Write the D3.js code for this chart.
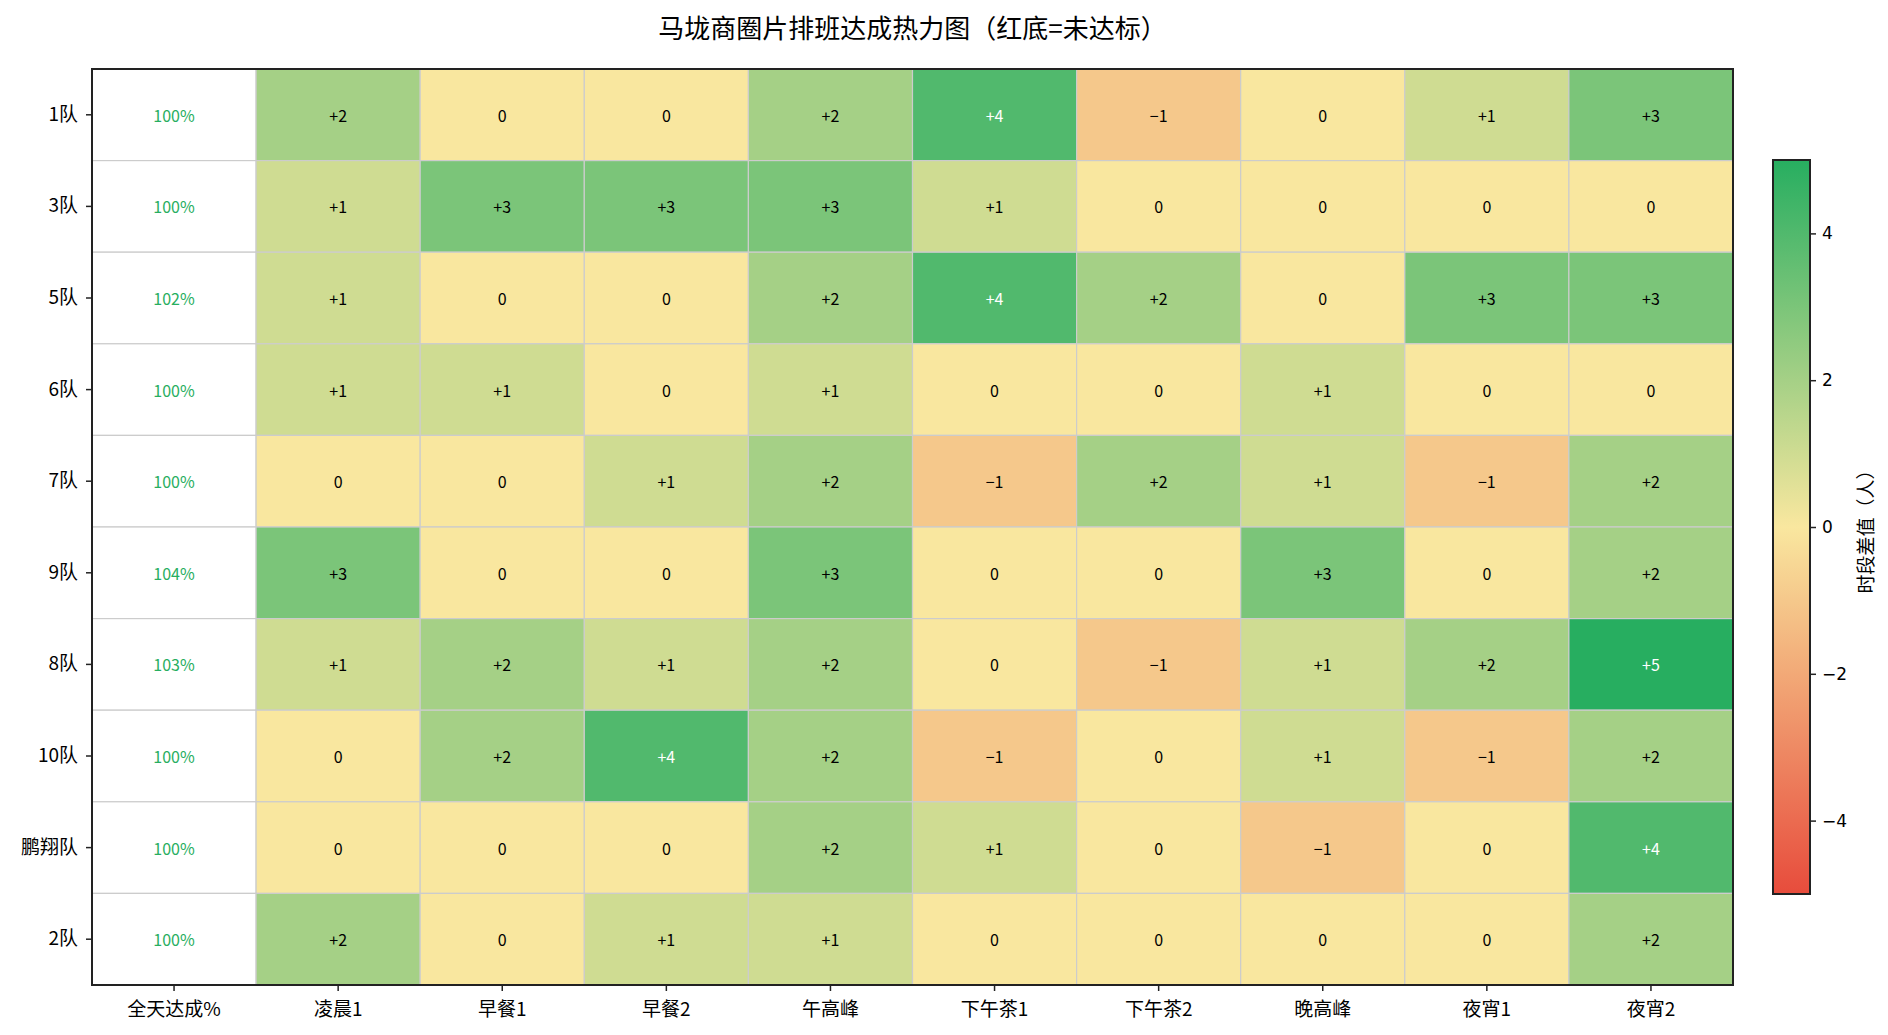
<!DOCTYPE html>
<html>
<head>
<meta charset="utf-8">
<script src="https://cdn.jsdelivr.net/npm/d3@7"></script>
<style>
  body { margin: 0; background: #fff; }
  svg text { font-family: "Noto Sans CJK SC", "DejaVu Sans", sans-serif; }
</style>
</head>
<body>
<div id="chart"></div>
<script>
const teams = ["1队", "3队", "5队", "6队", "7队", "9队", "8队", "10队", "鹏翔队", "2队"];
const slots = ["凌晨1", "早餐1", "早餐2", "午高峰", "下午茶1", "下午茶2", "晚高峰", "夜宵1", "夜宵2"];
const dayRate = [100, 100, 102, 100, 100, 104, 103, 100, 100, 100];
// per-team slot differences (people), same order as slots
const diffs = [
  [2, 0, 0, 2, 4, -1, 0, 1, 3],
  [1, 3, 3, 3, 1, 0, 0, 0, 0],
  [1, 0, 0, 2, 4, 2, 0, 3, 3],
  [1, 1, 0, 1, 0, 0, 1, 0, 0],
  [0, 0, 1, 2, -1, 2, 1, -1, 2],
  [3, 0, 0, 3, 0, 0, 3, 0, 2],
  [1, 2, 1, 2, 0, -1, 1, 2, 5],
  [0, 2, 4, 2, -1, 0, 1, -1, 2],
  [0, 0, 0, 2, 1, 0, -1, 0, 4],
  [2, 0, 1, 1, 0, 0, 0, 0, 2]
];
const cbTicks = [-4, -2, 0, 2, 4];

{
  const W = 1888, H = 1035;
  const axLeft = 92, axRight = 1733, axTop = 69, axBottom = 985;
  const columns = ["全天达成%"].concat(slots);

  const svg = d3.select("#chart").append("svg")
    .attr("width", W)
    .attr("height", H);

  let x = d3.scaleBand().domain(columns).range([axLeft, axRight]);
  let y = d3.scaleBand().domain(teams).range([axTop, axBottom]);

  let color = d3.scaleLinear()
    .domain([-5, 0, 5])
    .range(["#e74c3c", "#f9e79f", "#27ae60"])
    .interpolate(d3.interpolateRgb);

  const fmt = v => v > 0 ? "+" + v : (v < 0 ? "\u2212" + Math.abs(v) : "0");

  // flatten into cells
  let cells = [];
  teams.forEach((t, i) => {
    cells.push({ team: t, col: columns[0], rate: dayRate[i] });
    slots.forEach((s, j) => cells.push({ team: t, col: s, v: diffs[i][j] }));
  });

  let g = svg.append("g");
  g.selectAll("rect")
    .data(cells)
    .enter()
    .append("rect")
      .attr("x", d => x(d.col))
      .attr("y", d => y(d.team))
      .attr("width", x.bandwidth())
      .attr("height", y.bandwidth())
      .attr("fill", d => d.rate != undefined ? "#ffffff" : color(d.v))
      .attr("stroke", "#cccccc")
      .attr("stroke-width", 1.2);

  g.selectAll("text")
    .data(cells)
    .enter()
    .append("text")
      .attr("x", d => x(d.col) + x.bandwidth() / 2)
      .attr("y", d => y(d.team) + y.bandwidth() / 2)
      .attr("text-anchor", "middle")
      .attr("dominant-baseline", "central")
      .attr("font-size", 16)
      .attr("fill", d => {
        if (d.rate != undefined) return d.rate >= 100 ? "#27ae60" : "#e74c3c";
        return Math.abs(d.v) >= 4 ? "#ffffff" : "#000000";
      })
      .text(d => d.rate != undefined ? d.rate + "%" : fmt(d.v));

  // frame
  svg.append("rect")
    .attr("x", axLeft).attr("y", axTop)
    .attr("width", axRight - axLeft).attr("height", axBottom - axTop)
    .attr("fill", "none")
    .attr("stroke", "#222")
    .attr("stroke-width", 2);

  // axes
  let yAxis = svg.append("g")
    .attr("transform", `translate(${axLeft},0)`)
    .call(d3.axisLeft(y).tickSize(6).tickPadding(8));
  let xAxis = svg.append("g")
    .attr("transform", `translate(0,${axBottom})`)
    .call(d3.axisBottom(x).tickSize(6).tickPadding(12));
  [xAxis, yAxis].forEach(a => {
    a.select(".domain").remove();
    a.selectAll(".tick line").attr("stroke", "#222").attr("stroke-width", 1.5);
    a.selectAll(".tick text")
      .attr("font-size", 19)
      .attr("fill", "#000")
      .style("font-family", '"Noto Sans CJK SC", sans-serif');
  });

  // title
  svg.append("text")
    .attr("x", (axLeft + axRight) / 2)
    .attr("y", 26)
    .attr("text-anchor", "middle")
    .attr("dominant-baseline", "central")
    .attr("font-size", 26)
    .text("马垅商圈片排班达成热力图（红底=未达标）");

  // colorbar
  const cbX = 1773, cbW = 37, cbTop = 160, cbBottom = 894;
  let cbScale = d3.scaleLinear().domain([-5, 5]).range([cbBottom, cbTop]);

  let grad = svg.append("defs").append("linearGradient")
    .attr("id", "cbGrad")
    .attr("x1", 0).attr("y1", 1).attr("x2", 0).attr("y2", 0);
  d3.range(0, 11).forEach(k => {
    grad.append("stop")
      .attr("offset", (k / 10) * 100 + "%")
      .attr("stop-color", color(-5 + k));
  });

  svg.append("rect")
    .attr("x", cbX).attr("y", cbTop)
    .attr("width", cbW).attr("height", cbBottom - cbTop)
    .attr("fill", "url(#cbGrad)")
    .attr("stroke", "#222")
    .attr("stroke-width", 2);

  let cbAxis = svg.append("g")
    .attr("transform", `translate(${cbX + cbW},0)`)
    .call(d3.axisRight(cbScale).tickValues(cbTicks).tickSize(6).tickPadding(6)
      .tickFormat(v => v < 0 ? "\u2212" + Math.abs(v) : String(v)));
  cbAxis.select(".domain").remove();
  cbAxis.selectAll(".tick line").attr("stroke", "#222").attr("stroke-width", 1.5);
  cbAxis.selectAll(".tick text")
    .attr("font-size", 17)
    .attr("fill", "#000")
    .style("font-family", '"DejaVu Sans", sans-serif');

  svg.append("text")
    .attr("transform", `translate(1864,${(cbTop + cbBottom) / 2}) rotate(-90)`)
    .attr("text-anchor", "middle")
    .attr("dominant-baseline", "central")
    .attr("font-size", 19)
    .text("时段差值（人）");
}
</script>
</body>
</html>
